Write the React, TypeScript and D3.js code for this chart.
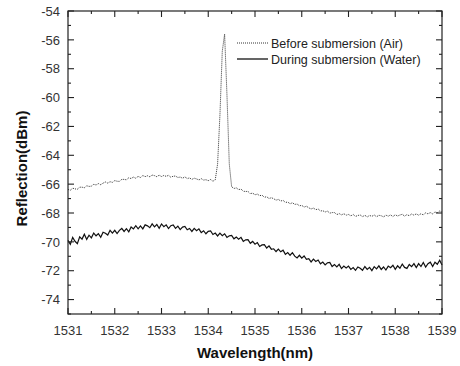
import { useEffect, useRef } from 'react';
import * as d3 from 'd3';

// wavelength grid: 1531..1539 nm, 0.05 nm steps
const WL_START = 1531;
const WL_STEP = 0.05;

const airValues = [
  -66.37, -66.42, -66.28, -66.33, -66.35, -66.21, -66.21, -66.25, -66.11, -66.16,
  -66.14, -66.01, -66.06, -65.96, -66.04, -65.93, -65.85, -65.93, -65.83, -65.88,
  -65.75, -65.8, -65.81, -65.67, -65.67, -65.7, -65.56, -65.61, -65.51, -65.59,
  -65.46, -65.54, -65.4, -65.48, -65.42, -65.49, -65.37, -65.41, -65.48, -65.38,
  -65.47, -65.4, -65.46, -65.39, -65.52, -65.45, -65.44, -65.54, -65.51, -65.59,
  -65.5, -65.61, -65.57, -65.67, -65.59, -65.64, -65.71, -65.62, -65.72, -65.69,
  -65.76, -65.68, -65.8, -65.7, -64.6, -61.2, -56.8, -55.6, -59.8, -64.6,
  -66.18, -66.3, -66.26, -66.38, -66.34, -66.49, -66.51, -66.5, -66.66, -66.62,
  -66.74, -66.69, -66.8, -66.76, -66.91, -66.87, -67.0, -66.94, -67.01, -67.11,
  -67.06, -67.17, -67.12, -67.27, -67.24, -67.36, -67.29, -67.4, -67.38, -67.5,
  -67.47, -67.59, -67.53, -67.64, -67.72, -67.66, -67.77, -67.72, -67.86, -67.84,
  -67.93, -67.87, -68.01, -67.97, -67.97, -68.11, -68.04, -68.13, -68.05, -68.15,
  -68.1, -68.2, -68.1, -68.24, -68.17, -68.14, -68.25, -68.16, -68.27, -68.17,
  -68.23, -68.14, -68.26, -68.16, -68.19, -68.27, -68.15, -68.22, -68.13, -68.25,
  -68.12, -68.21, -68.14, -68.09, -68.22, -68.11, -68.19, -68.07, -68.15, -68.06,
  -68.15, -68.05, -68.13, -67.99, -68.06, -67.97, -68.06, -67.93, -67.98, -67.86,
  -67.93,
];

const waterValues = [
  -69.9, -70.17, -69.69, -69.96, -70.13, -69.65, -69.81, -69.47, -69.83, -69.54,
  -69.72, -69.39, -69.58, -69.43, -69.68, -69.33, -69.4, -69.53, -69.2, -69.39,
  -69.2, -69.42, -69.2, -69.07, -69.28, -69.09, -69.3, -68.97, -69.1, -68.88,
  -69.1, -68.9, -69.1, -68.82, -68.89, -69.02, -68.75, -68.96, -68.8, -69.06,
  -68.76, -68.95, -68.82, -69.08, -68.88, -68.83, -69.07, -68.91, -69.15, -68.98,
  -68.93, -69.16, -69.07, -69.28, -69.07, -69.23, -69.1, -69.36, -69.23, -69.44,
  -69.27, -69.24, -69.49, -69.39, -69.59, -69.4, -69.57, -69.44, -69.69, -69.58,
  -69.55, -69.79, -69.67, -69.81, -69.69, -69.97, -69.86, -69.85, -70.1, -69.97,
  -70.16, -70.05, -70.32, -70.21, -70.2, -70.43, -70.28, -70.51, -70.48, -70.67,
  -70.5, -70.69, -70.58, -70.87, -70.74, -70.93, -70.75, -70.99, -71.11, -70.93,
  -71.13, -70.98, -71.21, -71.16, -71.39, -71.2, -71.36, -71.26, -71.52, -71.4,
  -71.6, -71.45, -71.42, -71.71, -71.58, -71.73, -71.56, -71.85, -71.68, -71.81,
  -71.68, -71.91, -71.78, -71.97, -71.74, -71.83, -71.97, -71.71, -71.91, -71.77,
  -71.99, -71.72, -71.87, -71.66, -71.91, -71.74, -71.95, -71.68, -71.79, -71.62,
  -71.91, -71.66, -71.83, -71.54, -71.77, -71.84, -71.57, -71.72, -71.51, -71.78,
  -71.51, -71.71, -71.43, -71.75, -71.51, -71.41, -71.71, -71.41, -71.55, -71.27,
  -71.6,
];

const seriesNames = ['Before submersion (Air)', 'During submersion (Water)'];
const xTicks = [1531, 1532, 1533, 1534, 1535, 1536, 1537, 1538, 1539];
const yTicks = [-54, -56, -58, -60, -62, -64, -66, -68, -70, -72, -74];

const W = 460;
const H = 366;
const FONT = '"Liberation Sans", Arial, Helvetica, sans-serif';

export default function App() {
  const ref = useRef<SVGSVGElement>(null);

  useEffect(() => {
    document.body.style.margin = '0';
    if (!ref.current) return;
    const svg = d3.select(ref.current);
    svg.selectAll('*').remove();

    const margin = { top: 11, right: 18, bottom: 52, left: 68 };
    const innerW = W - margin.left - margin.right;
    const innerH = H - margin.top - margin.bottom;

    const x = d3.scaleLinear().domain([1531, 1539]).range([0, innerW]);
    const y = d3.scaleLinear().domain([-75, -54]).range([innerH, 0]);

    const g = svg.append('g').attr('transform', `translate(${margin.left},${margin.top})`);

    const line = d3
      .line<number>()
      .x((_, i) => x(WL_START + i * WL_STEP))
      .y((d) => y(d));

    g.append('path')
      .attr('d', line(airValues))
      .attr('fill', 'none')
      .attr('stroke', '#333')
      .attr('stroke-width', 1)
      .attr('stroke-dasharray', '1,1');

    g.append('path')
      .attr('d', line(waterValues))
      .attr('fill', 'none')
      .attr('stroke', '#111')
      .attr('stroke-width', 1.2);

    // frame
    g.append('rect')
      .attr('width', innerW)
      .attr('height', innerH)
      .attr('fill', 'none')
      .attr('stroke', '#222')
      .attr('stroke-width', 1.2);

    const xMinor = d3.range(1531.5, 1539, 1);
    const yMinor = d3.range(-75, -54, 2);

    const tickStroke = (sel: any) => sel.attr('stroke', '#222').attr('stroke-width', 1.1);

    // bottom + top ticks (pointing inward)
    [0, innerH].forEach((base) => {
      const dir = base === 0 ? 1 : -1;
      g.append('g')
        .selectAll('line.maj')
        .data(xTicks)
        .enter()
        .append('line')
        .attr('x1', (d) => x(d))
        .attr('x2', (d) => x(d))
        .attr('y1', base)
        .attr('y2', base + dir * 6)
        .call(tickStroke);
      g.append('g')
        .selectAll('line.min')
        .data(xMinor)
        .enter()
        .append('line')
        .attr('x1', (d) => x(d))
        .attr('x2', (d) => x(d))
        .attr('y1', base)
        .attr('y2', base + dir * 3)
        .call(tickStroke);
    });

    // left + right ticks
    [0, innerW].forEach((base) => {
      const dir = base === 0 ? 1 : -1;
      g.append('g')
        .selectAll('line.maj')
        .data(yTicks)
        .enter()
        .append('line')
        .attr('x1', base)
        .attr('x2', base + dir * 6)
        .attr('y1', (d) => y(d))
        .attr('y2', (d) => y(d))
        .call(tickStroke);
      g.append('g')
        .selectAll('line.min')
        .data(yMinor)
        .enter()
        .append('line')
        .attr('x1', base)
        .attr('x2', base + dir * 3)
        .attr('y1', (d) => y(d))
        .attr('y2', (d) => y(d))
        .call(tickStroke);
    });

    g.append('g')
      .selectAll('text')
      .data(xTicks)
      .enter()
      .append('text')
      .attr('x', (d) => x(d))
      .attr('y', innerH + 21)
      .attr('text-anchor', 'middle')
      .attr('font-family', FONT)
      .attr('font-size', 13)
      .attr('fill', '#333')
      .text((d) => String(d));

    g.append('g')
      .selectAll('text')
      .data(yTicks)
      .enter()
      .append('text')
      .attr('x', -8)
      .attr('y', (d) => y(d))
      .attr('dy', '0.36em')
      .attr('text-anchor', 'end')
      .attr('font-family', FONT)
      .attr('font-size', 13)
      .attr('fill', '#333')
      .text((d) => `${d}`);

    svg
      .append('text')
      .attr('x', margin.left + innerW / 2)
      .attr('y', 358)
      .attr('text-anchor', 'middle')
      .attr('font-family', FONT)
      .attr('font-size', 15)
      .attr('font-weight', 'bold')
      .attr('fill', '#111')
      .text('Wavelength(nm)');

    svg
      .append('text')
      .attr('transform', `translate(27,${margin.top + innerH / 2 + 6}) rotate(-90)`)
      .attr('text-anchor', 'middle')
      .attr('font-family', FONT)
      .attr('font-size', 15)
      .attr('font-weight', 'bold')
      .attr('fill', '#111')
      .text('Reflection(dBm)');

    // legend
    const leg = svg.append('g').attr('transform', 'translate(237,43)');
    seriesNames.forEach((name, i) => {
      const row = leg.append('g').attr('transform', `translate(0,${i * 16})`);
      row
        .append('line')
        .attr('x1', 0)
        .attr('x2', 31)
        .attr('stroke', i === 0 ? '#333' : '#111')
        .attr('stroke-width', i === 0 ? 1 : 1.3)
        .attr('stroke-dasharray', i === 0 ? '1,1' : null);
      row
        .append('text')
        .attr('x', 34)
        .attr('dy', '0.36em')
        .attr('font-family', FONT)
        .attr('font-size', 12.5)
        .attr('fill', '#222')
        .text(name);
    });
  }, []);

  return <svg ref={ref} width={W} height={H} style={{ display: 'block' }} />;
}
